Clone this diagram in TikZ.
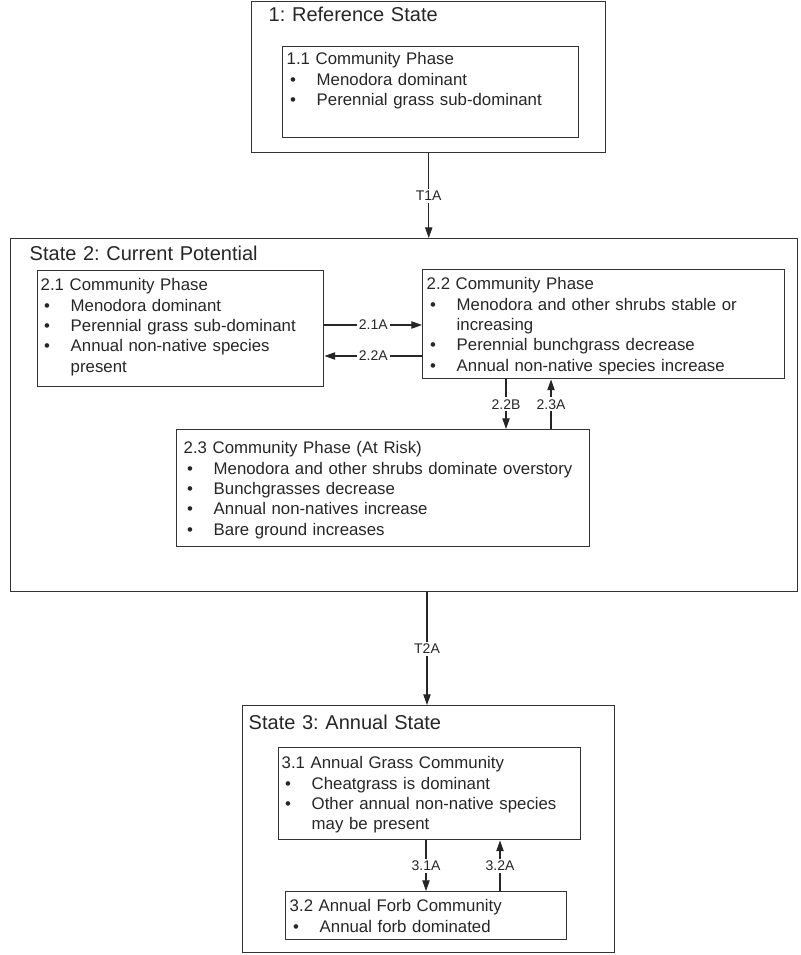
\documentclass[tikz,border=0pt]{standalone}
\usepackage{fontspec}
\setmainfont{Liberation Sans}
\usetikzlibrary{arrows.meta}
\frenchspacing
\newcommand{\bul}{\par\hangindent=22.5pt\hangafter=1\noindent\makebox[22.5pt][l]{\hspace{2.5pt}\textbullet}}

\begin{document}
\begin{tikzpicture}[x = 0.75pt, y = -0.75pt, line width = 1.1pt,
                    state/.style = {draw = black!80, anchor = north west, align = left, inner ysep = 3pt,
                                    font = \fontsize{15}{18}\selectfont, text = black!85},
                    phase/.style = {draw = black!80, anchor = north west, align = left, inner ysep = 3pt,
                                    font = \fontsize{12.6}{15.25}\selectfont, text = black!85},
                    lbl/.style = {fill = white, inner sep = 1.5pt, font = \fontsize{10.5}{12}\selectfont, text = black!85},
                    arr/.style = {-{Triangle[length = 8pt, width = 5.5pt]}, line width = 0.8pt, draw = black!85}]
  \useasboundingbox (0,0) rectangle (800,955);

  \node [state, inner xsep = 12.75pt, text width = 240pt, text height = 12pt, text depth = 95.25pt] (S1) at (251,1) {1: Reference State};
  \node [phase, inner xsep = 3pt, text width = 216pt, text height = 10.5pt, text depth = 51.75pt] (P11) at (282,46)
    {1.1 Community Phase \bul Menodora dominant \bul Perennial grass sub-dominant\par};

  \node [state, inner xsep = 14.25pt, text width = 561.75pt, text height = 13.5pt, text depth = 245.25pt] (S2) at (10,238) {State 2: Current Potential};
  \node [phase, inner xsep = 2.25pt, text width = 210pt, text height = 12pt, text depth = 69pt] (P21) at (37,270)
    {2.1 Community Phase \bul Menodora dominant \bul Perennial grass sub-dominant \bul Annual non-native species\newline present\par};
  \node [phase, inner xsep = 3pt, text width = 265.5pt, text height = 12pt, text depth = 63.75pt] (P22) at (422,269)
    {2.2 Community Phase \bul Menodora and other shrubs stable or\newline increasing \bul Perennial bunchgrass decrease \bul Annual non-native species increase\par};
  \node [phase, inner xsep = 5.25pt, text width = 299.25pt, text height = 15pt, text depth = 66.75pt] (P23) at (176,429)
    {2.3 Community Phase (At Risk) \bul Menodora and other shrubs dominate overstory \bul Bunchgrasses decrease \bul Annual non-natives increase \bul Bare ground increases\par};

  \node [state, inner xsep = 4.5pt, text width = 270pt, text height = 15pt, text depth = 164.25pt] (S3) at (242,705) {State 3: Annual State};
  \node [phase, inner xsep = 2.25pt, text width = 222pt, text height = 12.75pt, text depth = 50.25pt] (P31) at (278,747)
    {3.1 Annual Grass Community \bul Cheatgrass is dominant \bul Other annual non-native species\newline may be present\par};
  \node [phase, inner xsep = 3pt, text width = 204.75pt, text height = 12pt, text depth = 18pt] (P32) at (285,891)
    {3.2 Annual Forb Community \bul Annual forb dominated\par};

  \draw [arr] (S1.south) -- node [lbl] {T1A} (S1.south |- S2.north);
  \draw [arr] (P21.east |- 0,325) -- node [lbl] {2.1A} (P22.west |- 0,325);
  \draw [arr] (P22.west |- 0,356) -- node [lbl] {2.2A} (P21.east |- 0,356);
  \draw [arr] (P22.south -| 506,0) -- node [lbl] {2.2B} (P23.north -| 506,0);
  \draw [arr] (P23.north -| 551,0) -- node [lbl] {2.3A} (P22.south -| 551,0);
  \draw [arr] (S2.south -| 427,0) -- node [lbl] {T2A} (S3.north -| 427,0);
  \draw [arr] (P31.south -| 426,0) -- node [lbl] {3.1A} (P32.north -| 426,0);
  \draw [arr] (P32.north -| 500,0) -- node [lbl] {3.2A} (P31.south -| 500,0);
\end{tikzpicture}
\end{document}
